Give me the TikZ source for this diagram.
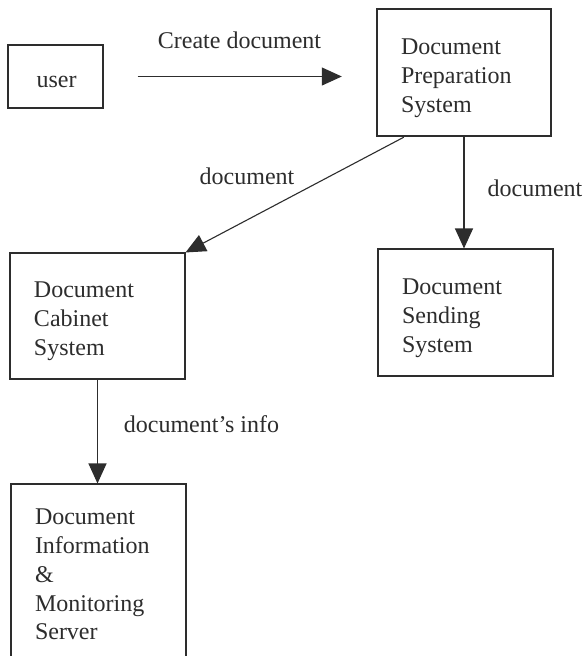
\documentclass[tikz,border=0pt]{standalone}
\usepackage{fontspec}
\setmainfont{Liberation Serif}
\usetikzlibrary{arrows.meta,calc}
\definecolor{ink}{RGB}{45,45,45}
\begin{document}
\begin{tikzpicture}[x=1pt,y=-1pt,
  font=\fontsize{24}{28.8}\selectfont, text=ink,
  box/.style={draw=ink, line width=1.1pt, inner sep=0pt},
  txt/.style={inner sep=0pt, align=left, text width=127pt},
  arr/.style={draw=ink, line width=1.1pt, -{Triangle[length=20pt,width=18pt]}},
  lbl/.style={inner sep=0pt}]
\useasboundingbox[fill=white] (0,0) rectangle (585,656);
% boxes
\node[box, minimum width=95pt, minimum height=63pt] (user) at (55.5,76.5) {};
\node[box, line width=2.4pt, minimum width=174pt, minimum height=127pt] (dps) at (464,72.5) {};
\node[box, minimum width=175pt, minimum height=126pt] (dcs) at (97.5,316) {};
\node[box, minimum width=175pt, minimum height=127pt] (dss) at (465.5,312.5) {};
\node[box, minimum width=175pt, minimum height=180pt] (dims) at (98.5,574) {};
% box texts
\node[lbl] (userT) at ($(user.center)+(1,5.5)$) {user};
\node[txt, text width=126pt] (dpsT) at ($(dps.center)+(0,6)$) {Document\\Preparation\\System};
\node[txt] (dcsT) at ($(dcs.center)+(0,5)$) {Document\\Cabinet\\System};
\node[txt] (dssT) at ($(dss.center)+(0,5.5)$) {Document\\Sending\\System};
\node[txt] (dimsT) at ($(dims.center)+(0,0.5)$) {Document\\Information\\\&\\Monitoring\\Server};
% connectors
\draw[arr, shorten <=34pt, shorten >=34pt] (user.east) -- (user.east -| dps.west);
\draw[arr] ($(dps.south west)+(28,0)$) -- (dcs.north east);
\draw[arr] (dps.south) -- (dps.south |- dss.north);
\draw[arr] (dcs.south) -- (dcs.south |- dims.north);
% connector labels
\node[lbl] (l1) at (239.5,40) {Create document};
\node[lbl] (l2) at (247,176) {document};
\node[lbl] (l3) at (535,188) {document};
\node[lbl] (l4) at (201.5,424) {document's info};
\end{tikzpicture}
\end{document}
